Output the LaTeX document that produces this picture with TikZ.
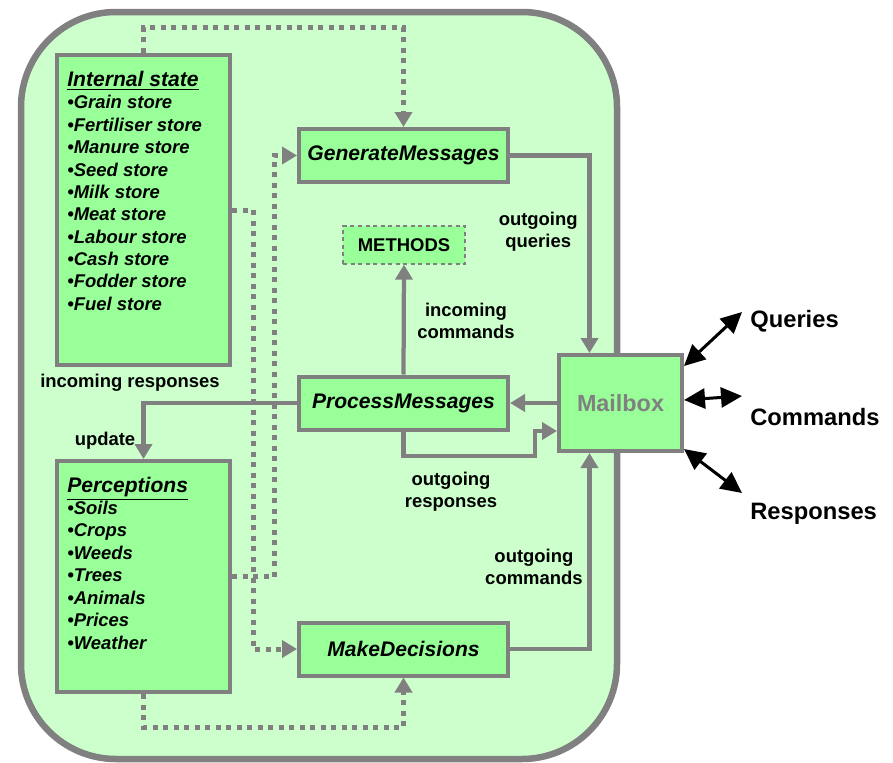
\documentclass[tikz,border=0pt]{standalone}
\usepackage{fontspec}
\setmainfont{Liberation Sans}
\usetikzlibrary{arrows.meta}
\definecolor{bgAgent}{HTML}{CCFFCC}
\definecolor{boxGreen}{HTML}{99FF99}
\definecolor{greyLine}{HTML}{808080}

\begin{document}
\begin{tikzpicture}[x=0.2mm, y=-0.2mm, font=\bfseries,
        frame/.style={draw=greyLine, line width=1.3mm, fill=bgAgent, rounded corners=19mm},
        box/.style={draw=greyLine, fill=boxGreen, line width=0.8mm, inner sep=0pt},
        task/.style={box, minimum width=41.8mm, minimum height=10.6mm,
            font=\bfseries\itshape\fontsize{12}{14}\selectfont},
        store/.style={box, minimum width=34.6mm},
        head/.style={anchor=base west, inner sep=0pt, font=\bfseries\itshape\fontsize{12}{14}\selectfont},
        item/.style={anchor=base west, inner sep=0pt, font=\bfseries\itshape\fontsize{10.5}{12.5}\selectfont},
        note/.style={inner sep=0pt, align=center, font=\bfseries\fontsize{10.5}{12.5}\selectfont},
        outer/.style={anchor=west, inner sep=0pt, font=\bfseries\fontsize{13.5}{16}\selectfont},
        link/.style={greyLine, line width=0.85mm, -{Triangle[length=3mm, width=3.4mm]}},
        dots/.style={link, line width=1mm, dash pattern=on 1mm off 1.1mm},
        ext/.style={black, line width=0.6mm, {Triangle[length=4.2mm, width=4mm]}-{Triangle[length=4.2mm, width=4mm]}}]
    \useasboundingbox (0,0) rectangle (893,763);
    \draw[frame] (21,12) rectangle (617,759);
    % stores and perceptions
    \node[store, minimum height=62mm] (state) at (143.5,210) {};
    \node[head] (stateHead) at (67,86.5) {\underline{Internal state}};
    \foreach \lbl [count=\i] in {Grain store, Fertiliser store, Manure store, Seed store, Milk store,
            Meat store, Labour store, Cash store, Fodder store, Fuel store}
        \node[item] (stateItem\i) at (67,86.6+22.35*\i) {\textbullet\lbl};
    \node[store, minimum height=46.2mm] (per) at (143.5,576.5) {};
    \node[head] (perHead) at (67,492.5) {\underline{Perceptions}};
    \foreach \lbl [count=\i] in {Soils, Crops, Weeds, Trees, Animals, Prices, Weather}
        \node[item] (perItem\i) at (67,491.6+22.5*\i) {\textbullet\lbl};
    % methods
    \node[task] (gen) at (403.5,155.5) {GenerateMessages};
    \node[task] (proc) at (403.5,403) {ProcessMessages};
    \node[task] (dec) at (403.5,649) {MakeDecisions};
    \node[box, dotted, line width=0.25mm, minimum width=24.4mm, minimum height=7.6mm,
        font=\bfseries\fontsize{10.5}{12}\selectfont] (meth) at (404,245) {METHODS};
    \node[box, minimum width=24.6mm, minimum height=19.2mm, text=greyLine,
        font=\bfseries\fontsize{13.3}{15}\selectfont] (mail) at (620.5,403) {Mailbox};
    % message flow
    \coordinate (respBend) at (535,456);
    \draw[link] (gen.east) -| ([xshift=-6.2mm]mail.north);
    \draw[link] (dec.east) -| ([xshift=-6.2mm]mail.south);
    \draw[link] (mail.west) -- (proc.east);
    \draw[link] (proc.north) -- (meth.south);
    \draw[link] (proc.south) |- (respBend) |- ([yshift=-5.6mm]mail.west);
    \draw[link] (proc.west) -| (per.north);
    \node[note, anchor=east] (lblQueries) at (578,232) {outgoing\\queries};
    \node[note] (lblInCmd) at (466,321) {incoming\\commands};
    \node[note] (lblOutResp) at (451,492) {outgoing\\responses};
    \node[note, anchor=east] (lblOutCmd) at (583,567) {outgoing\\commands};
    \node[note] (lblInResp) at (130,383) {incoming responses};
    \node[note] (lblUpdate) at (105,441) {update};
    % data use
    \coordinate (stateDrop) at (253,0);
    \coordinate (perRise) at (274,0);
    \draw[dots] (state.north) -- ++(0,-25) -| (gen.north);
    \draw[dots] (state.east) -| (stateDrop |- dec.west) -- (dec.west);
    \draw[dots] (per.east) -| (perRise |- gen.west) -- (gen.west);
    \draw[dots] (per.south) -- ++(0,33) -| (dec.south);
    % outside world
    \coordinate (qEnd) at (742,312);
    \coordinate (cEnd) at (742,396);
    \coordinate (rEnd) at (742,493);
    \draw[ext] ([yshift=-2.6mm]mail.north east) -- (qEnd);
    \draw[ext] ([yshift=0.6mm]mail.east) -- (cEnd);
    \draw[ext] ([yshift=0.8mm]mail.south east) -- (rEnd);
    \node[outer] (queries) at (750,321) {Queries};
    \node[outer] (commands) at (750,417) {Commands};
    \node[outer] (responses) at (750,514) {Responses};
\end{tikzpicture}
\end{document}
